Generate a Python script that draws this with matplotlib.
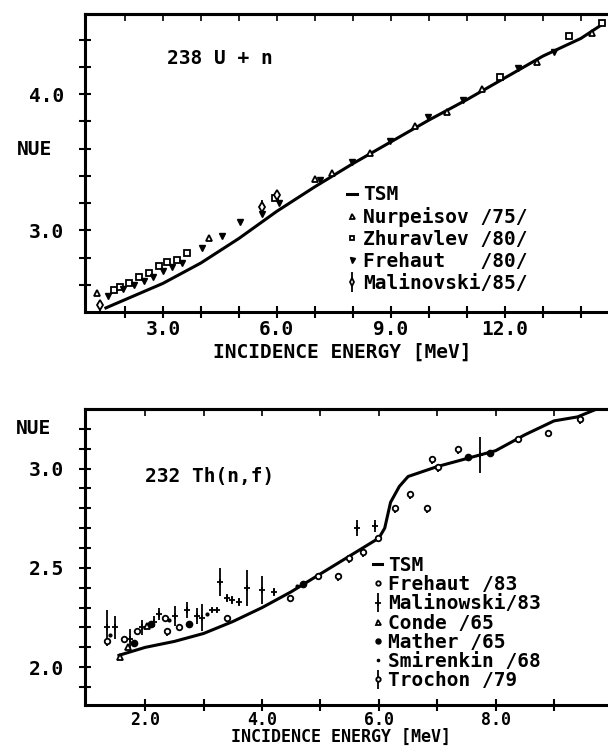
import matplotlib
matplotlib.use("Agg")
import matplotlib.pyplot as plt
from matplotlib.ticker import FixedLocator, NullFormatter

# ---- 238U + n ----
tsm_u_x = [1.5, 2.0, 3.0, 4.0, 5.0, 6.0, 7.0, 8.0, 9.0, 10.0, 11.0, 12.0, 13.0, 14.0, 14.6]
tsm_u_y = [2.43, 2.49, 2.61, 2.76, 2.94, 3.14, 3.32, 3.49, 3.65, 3.81, 3.96, 4.12, 4.28, 4.41, 4.52]

nurp_x = [1.26, 4.21, 7.0, 7.45, 8.45, 9.63, 10.47, 11.4, 12.84, 14.3]
nurp_y = [2.54, 2.94, 3.38, 3.42, 3.57, 3.77, 3.87, 4.04, 4.24, 4.45]

zhur_x = [1.71, 1.87, 2.1, 2.37, 2.63, 2.9, 3.1, 3.37, 3.63, 5.95, 11.87, 13.7, 14.55]
zhur_y = [2.56, 2.58, 2.61, 2.66, 2.69, 2.74, 2.77, 2.78, 2.83, 3.24, 4.13, 4.43, 4.52]

freh_u_x = [1.55, 1.95, 2.25, 2.5, 2.75, 3.0, 3.25, 3.5, 4.03, 4.55, 5.03, 5.6, 6.05,
            7.13, 7.97, 8.97, 9.97, 10.9, 12.34, 13.3]
freh_u_y = [2.52, 2.57, 2.60, 2.63, 2.66, 2.70, 2.73, 2.76, 2.87, 2.96, 3.06, 3.12, 3.20,
            3.37, 3.50, 3.66, 3.83, 3.96, 4.19, 4.31]

malv_x = [1.34, 5.6, 6.0]
malv_y = [2.45, 3.17, 3.26]
malv_err = [0.04, 0.05, 0.04]

# ---- 232Th(n,f) ----
tsm_th_x = [1.55, 2.0, 2.5, 3.0, 3.5, 4.0, 4.5, 5.0, 5.5, 6.0, 6.1, 6.2, 6.35, 6.5,
            7.0, 7.5, 8.0, 8.5, 9.0, 9.4, 9.9]
tsm_th_y = [2.06, 2.10, 2.13, 2.17, 2.23, 2.30, 2.38, 2.47, 2.56, 2.65, 2.70, 2.83, 2.91, 2.96,
            3.01, 3.05, 3.09, 3.17, 3.24, 3.26, 3.32]

malw_x = [1.35, 1.49, 1.74, 1.95, 2.15, 2.24, 2.51, 2.72, 2.89, 2.98, 3.15, 3.23, 3.28,
          3.40, 3.49, 3.61, 3.75, 4.0, 4.21, 5.63, 5.94, 7.74]
malw_y = [2.20, 2.20, 2.14, 2.20, 2.23, 2.27, 2.26, 2.29, 2.26, 2.25, 2.29, 2.29, 2.43,
          2.35, 2.34, 2.33, 2.40, 2.39, 2.38, 2.70, 2.71, 3.07]
malw_err = [0.09, 0.06, 0.05, 0.04, 0.03, 0.03, 0.05, 0.04, 0.04, 0.07, 0.01, 0.01, 0.07,
            0.02, 0.02, 0.02, 0.09, 0.07, 0.02, 0.04, 0.03, 0.09]

freh_th_x = [1.64, 1.86, 2.33, 2.58, 3.40, 4.48, 4.96, 5.99, 8.39, 8.9]
freh_th_y = [2.14, 2.18, 2.25, 2.20, 2.25, 2.35, 2.46, 2.65, 3.15, 3.18]

conde_x = [1.57, 1.70, 2.03]
conde_y = [2.05, 2.10, 2.21]

mather_x = [1.80, 2.10, 2.75, 4.70, 7.53, 7.90]
mather_y = [2.12, 2.22, 2.22, 2.42, 3.06, 3.08]

smir_x = [1.40, 2.40, 3.05, 4.60]
smir_y = [2.16, 2.24, 2.27, 2.41]

troch_x = [1.35, 2.38, 5.30, 5.48, 5.73, 6.28, 6.54, 6.83, 6.91, 7.02, 7.36, 9.45]
troch_y = [2.13, 2.18, 2.46, 2.55, 2.58, 2.80, 2.87, 2.80, 3.05, 3.01, 3.10, 3.25]

FONT = dict(family="DejaVu Sans Mono", weight="bold")
FS = 14

fig = plt.figure(figsize=(6.08, 7.46), dpi=100)


def style_axes(ax, xmajor, xminor, ymajor, yminor, ylabels, xlab_y, nue_y, xfs, xpad):
    for s in ["left", "bottom", "top"]:
        ax.spines[s].set_linewidth(2.2)
    ax.spines["right"].set_visible(False)
    ax.xaxis.set_major_locator(FixedLocator(xmajor))
    ax.xaxis.set_minor_locator(FixedLocator(xminor))
    ax.set_xticklabels([f"{v:.1f}" for v in xmajor], fontsize=xfs, **FONT)
    ax.yaxis.set_major_locator(FixedLocator(ymajor))
    ax.yaxis.set_minor_locator(FixedLocator(yminor))
    ax.set_yticklabels(ylabels, fontsize=FS, **FONT)
    ax.tick_params(which="both", direction="inout", length=8, width=1.5)
    ax.tick_params(axis="x", pad=xpad)
    ax.tick_params(axis="y", pad=11)
    top = ax.secondary_xaxis("top")
    top.xaxis.set_major_locator(FixedLocator(xmajor + xminor))
    top.xaxis.set_major_formatter(NullFormatter())
    top.tick_params(direction="in", length=5, width=1.2)
    top.spines["top"].set_linewidth(2.2)
    ax.set_xlabel("INCIDENCE ENERGY [MeV]", fontsize=xfs, va="center", **FONT)
    ax.xaxis.set_label_coords(0.481, xlab_y)
    ax.set_ylabel("NUE", rotation=0, fontsize=FS, va="center", ha="center", **FONT)
    ax.yaxis.set_label_coords(-0.095, nue_y)


# top panel
ax1 = fig.add_axes([0.1398, 0.5818, 0.878, 0.3995])
ax1.plot(tsm_u_x, tsm_u_y, color="black", lw=2.2, label="TSM")
ax1.plot(nurp_x, nurp_y, "^", ms=4.5, mfc="white", mec="black", mew=1.3, label="Nurpeisov /75/")
ax1.plot(zhur_x, zhur_y, "s", ms=4, mfc="white", mec="black", mew=1.3, label="Zhuravlev /80/")
ax1.plot(freh_u_x, freh_u_y, "v", ms=4.5, mfc="black", mec="black", mew=1.0, label="Frehaut   /80/")
ax1.errorbar(malv_x, malv_y, yerr=malv_err, fmt="d", ms=5, mfc="white", mec="black", mew=1.3,
             ecolor="black", elinewidth=1.3, capsize=0, label="Malinovski/85/")
ax1.set_xlim(0.95, 15.0)
ax1.set_ylim(2.40, 4.59)
style_axes(ax1, [3.0, 6.0, 9.0, 12.0], [2, 4, 5, 7, 8, 10, 11, 13, 14],
           [3.0, 4.0], [2.6, 2.8, 3.2, 3.4, 3.6, 3.8, 4.2, 4.4], ["3.0", "4.0"],
           -0.134, 0.545, FS, 2)
ax1.text(3.1, 4.26, "238 U + n", fontsize=FS, va="center", ha="left", **FONT)
ax1.legend(loc="upper left", bbox_to_anchor=(0.49, 0.425), frameon=False,
           prop=dict(size=FS, **FONT), handlelength=0.55, handletextpad=0.3,
           labelspacing=0.15, borderpad=0, borderaxespad=0, markerscale=0.8)

# bottom panel
ax2 = fig.add_axes([0.139, 0.055, 0.878, 0.3968])
ax2.plot(tsm_th_x, tsm_th_y, color="black", lw=2.2, label="TSM")
ax2.plot(freh_th_x, freh_th_y, "o", ms=4, mfc="white", mec="black", mew=1.3, label="Frehaut /83")
ax2.errorbar(malw_x, malw_y, yerr=malw_err, fmt="+", ms=5, mec="black", mew=1.3,
             ecolor="black", elinewidth=1.3, capsize=0, label="Malinowski/83")
ax2.plot(conde_x, conde_y, "^", ms=4.5, mfc="white", mec="black", mew=1.3, label="Conde /65")
ax2.plot(mather_x, mather_y, "o", ms=4.5, mfc="black", mec="black", label="Mather /65")
ax2.plot(smir_x, smir_y, ".", ms=4, color="black", label="Smirenkin /68")
ax2.errorbar(troch_x, troch_y, yerr=[[0.025] * len(troch_x), [0.0] * len(troch_x)], fmt="o",
             ms=4, mfc="white", mec="black", mew=1.3, ecolor="black", elinewidth=1.3,
             capsize=0, label="Trochon /79")
ax2.set_xlim(0.96, 10.1)
ax2.set_ylim(1.81, 3.30)
style_axes(ax2, [2.0, 4.0, 6.0, 8.0], [3, 5, 7, 9],
           [2.0, 2.5, 3.0], [1.9, 2.1, 2.2, 2.3, 2.4, 2.6, 2.7, 2.8, 2.9, 3.1, 3.2],
           ["2.0", "2.5", "3.0"], -0.107, 0.933, 12, 0)
ax2.text(2.0, 2.96, "232 Th(n,f)", fontsize=FS, va="center", ha="left", **FONT)

order = ["TSM", "Frehaut /83", "Malinowski/83", "Conde /65", "Mather /65",
         "Smirenkin /68", "Trochon /79"]
handles, labels = ax2.get_legend_handles_labels()
lookup = dict(zip(labels, handles))
ax2.legend([lookup[k] for k in order], order, loc="upper left", bbox_to_anchor=(0.54, 0.503),
           frameon=False, prop=dict(size=FS, **FONT), handlelength=0.5, handletextpad=0.3,
           labelspacing=0.01, borderpad=0, borderaxespad=0, markerscale=0.8)

fig.savefig("out.png", dpi=100)
